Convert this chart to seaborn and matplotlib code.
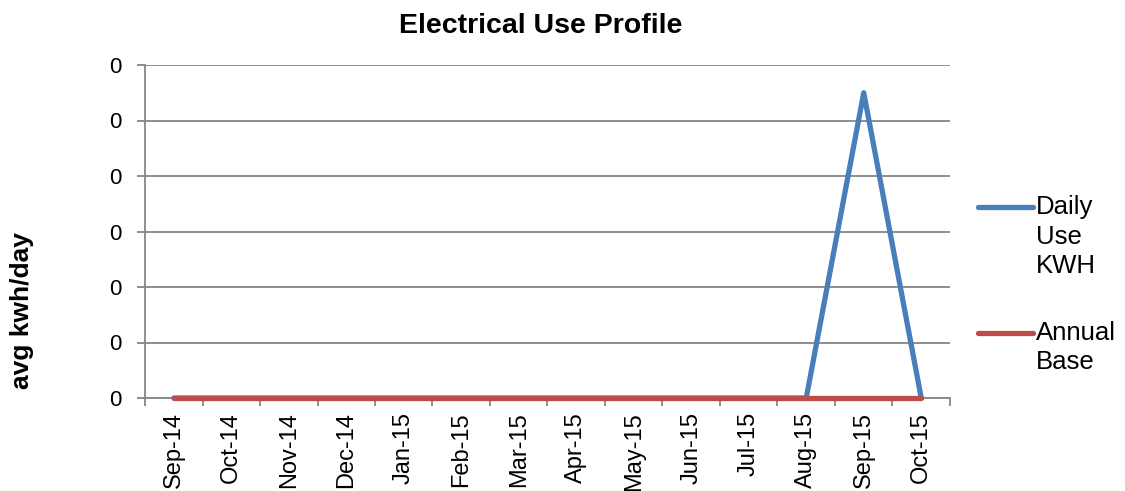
import matplotlib
matplotlib.use("Agg")
import matplotlib.pyplot as plt
from matplotlib.ticker import FixedLocator, FuncFormatter
from matplotlib.lines import Line2D
import seaborn as sns
import pandas as pd

# Monthly billing periods
months = ["Sep-14", "Oct-14", "Nov-14", "Dec-14", "Jan-15", "Feb-15", "Mar-15",
          "Apr-15", "May-15", "Jun-15", "Jul-15", "Aug-15", "Sep-15", "Oct-15"]

# Average kWh per day for each period
daily_use_kwh = [0, 0, 0, 0, 0, 0, 0, 0, 0, 0, 0, 0, 0.055, 0]
annual_base = [0, 0, 0, 0, 0, 0, 0, 0, 0, 0, 0, 0, 0, 0]

series_names = ["Daily\nUse\nKWH", "Annual\nBase"]
series_colors = ["#4A7EBB", "#BE4B48"]
y_ticks = [0, 0.01, 0.02, 0.03, 0.04, 0.05, 0.06]

df = pd.DataFrame({
    "month": months * 2,
    "kwh": daily_use_kwh + annual_base,
    "series": [series_names[0]] * len(months) + [series_names[1]] * len(months),
})

sns.set_theme(style="white")
plt.rcParams["font.family"] = ["Liberation Sans", "DejaVu Sans"]
plt.rcParams["text.color"] = "black"

fig = plt.figure(figsize=(11.25, 4.91), dpi=100)
ax = fig.add_axes([145 / 1125, 1 - 398 / 491, (950 - 145) / 1125, (398 - 65) / 491])

lw = 3.8
sns.lineplot(data=df, x="month", y="kwh", hue="series", hue_order=series_names,
             palette=series_colors, sort=False, linewidth=lw, ax=ax,
             legend=False)
for line in ax.lines:
    line.set_solid_capstyle("round")
    line.set_clip_on(False)
    line.set_zorder(3)

grid_color = "#868686"
ax.set_xlim(-0.5, len(months) - 0.5)
ax.set_ylim(y_ticks[0], y_ticks[-1])
ax.yaxis.set_major_locator(FixedLocator(y_ticks))
ax.yaxis.set_major_formatter(FuncFormatter(lambda v, p: f"{v:.0f}"))
ax.grid(axis="y", color=grid_color, linewidth=1.3)
ax.set_axisbelow(True)

# Category labels centred, tick marks on the category boundaries
ax.set_xticks(range(len(months)))
ax.set_xticklabels(months, rotation=90)
ax.set_xticks([i - 0.5 for i in range(len(months) + 1)], minor=True)
ax.tick_params(axis="x", which="major", length=0, pad=10, labelsize=17, labelcolor="black")
ax.tick_params(axis="x", which="minor", length=6, width=1.3, color=grid_color, bottom=True)
ax.tick_params(axis="y", which="major", length=6, width=1.3, color=grid_color,
               left=True, pad=11, labelsize=16, labelcolor="black")

for side in ["top", "right"]:
    ax.spines[side].set_visible(False)
for side in ["left", "bottom"]:
    ax.spines[side].set_color(grid_color)
    ax.spines[side].set_linewidth(1.3)

ax.set_xlabel("")
ax.set_ylabel("")

fig.text(541 / 1125, 1 - 33 / 491, "Electrical Use Profile", ha="center", va="baseline",
         fontsize=20.5, fontweight="bold", color="black")
fig.text(22 / 1125, 1 - 311 / 491, "avg kwh/day", ha="center", va="center",
         rotation=90, fontsize=19, fontweight="bold", color="black")

# Legend: handle aligned with the first line of each label
fs = 18.5
ls = 1.3
handles = [Line2D([], [], color=c, linewidth=lw, solid_capstyle="round") for c in series_colors]
leg = fig.legend(handles, series_names, loc="upper left",
                 bbox_to_anchor=(978 / 1125, 1 - 195 / 491), frameon=False,
                 borderpad=0, borderaxespad=0, fontsize=fs, handlelength=2.15,
                 handletextpad=0.12, labelspacing=1.65)
for t in leg.get_texts():
    t.set_linespacing(ls)
for h, lbl in zip(leg.legend_handles, series_names):
    n = lbl.count("\n")
    h.set_ydata([v + n / 2 * ls * 0.89 * fs for v in h.get_ydata()])

fig.savefig("out.png", dpi=100)
